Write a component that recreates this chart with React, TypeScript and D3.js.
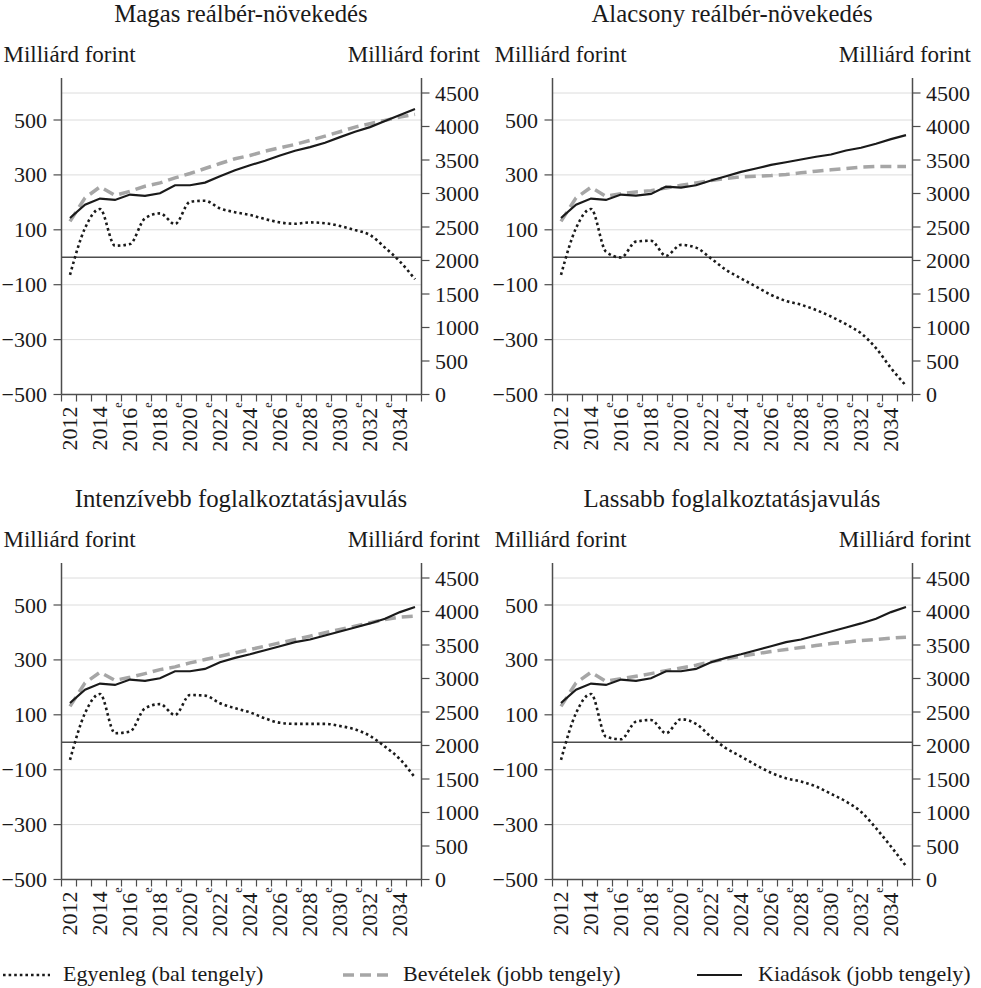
import * as d3 from "d3";

const years = [2012, 2013, 2014, 2015, 2016, 2017, 2018, 2019, 2020, 2021, 2022, 2023, 2024, 2025, 2026, 2027, 2028, 2029, 2030, 2031, 2032, 2033, 2034, 2035];
const labelYears = [2012, 2014, 2016, 2018, 2020, 2022, 2024, 2026, 2028, 2030, 2032, 2034];
const firstEstimate = 2016;

const leftTicks = [-500, -300, -100, 100, 300, 500];
const rightTicks = [0, 500, 1000, 1500, 2000, 2500, 3000, 3500, 4000, 4500];

const titles = [
	"Magas reálbér-növekedés",
	"Alacsony reálbér-növekedés",
	"Intenzívebb foglalkoztatásjavulás",
	"Lassabb foglalkoztatásjavulás",
];

// Kiadások (jobb tengely)
const expHigh = [2635, 2834, 2924, 2904, 2984, 2964, 3003, 3123, 3123, 3163, 3258, 3347, 3422, 3488, 3567, 3638, 3692, 3757, 3841, 3922, 3991, 4081, 4171, 4260];
const expLow = [2635, 2834, 2924, 2904, 2984, 2969, 2994, 3103, 3088, 3123, 3193, 3258, 3323, 3373, 3428, 3467, 3508, 3548, 3582, 3642, 3683, 3742, 3811, 3871];
const expFast = [2635, 2834, 2924, 2904, 2984, 2964, 3003, 3108, 3108, 3143, 3243, 3308, 3362, 3422, 3482, 3542, 3582, 3642, 3702, 3762, 3822, 3892, 3991, 4066];
const expSlow = [2635, 2834, 2924, 2904, 2984, 2964, 3003, 3108, 3108, 3143, 3243, 3308, 3362, 3422, 3482, 3542, 3582, 3642, 3702, 3762, 3822, 3892, 3991, 4066];

// Bevételek (jobb tengely)
const revHigh = [2584, 2934, 3099, 2973, 3033, 3108, 3158, 3233, 3298, 3373, 3448, 3518, 3567, 3632, 3683, 3732, 3792, 3856, 3922, 3991, 4042, 4091, 4141, 4181];
const revLow = [2584, 2934, 3093, 2958, 2998, 3024, 3043, 3083, 3123, 3158, 3193, 3223, 3248, 3258, 3268, 3283, 3308, 3333, 3353, 3373, 3393, 3403, 3403, 3403];
const revFast = [2584, 2934, 3093, 2973, 3018, 3073, 3133, 3173, 3233, 3283, 3333, 3383, 3433, 3482, 3533, 3582, 3632, 3683, 3732, 3782, 3832, 3882, 3916, 3931];
const revSlow = [2584, 2934, 3093, 2958, 2998, 3033, 3073, 3118, 3158, 3198, 3248, 3293, 3333, 3368, 3403, 3433, 3463, 3492, 3522, 3542, 3567, 3582, 3602, 3617];

// Egyenleg (bal tengely)
const balHigh = [-64, 106, 176, 42, 48, 142, 160, 121, 202, 206, 178, 164, 154, 139, 127, 122, 127, 124, 114, 99, 81, 35, -16, -80];
const balLow = [-64, 106, 176, 20, -1, 57, 60, 5, 45, 35, -4, -46, -77, -107, -137, -159, -173, -192, -216, -244, -277, -331, -404, -468];
const balFast = [-64, 106, 176, 33, 39, 124, 139, 99, 172, 170, 142, 124, 109, 87, 71, 67, 67, 67, 59, 47, 23, -16, -62, -129];
const balSlow = [-64, 106, 176, 20, 11, 75, 81, 33, 84, 67, 20, -22, -52, -83, -111, -131, -143, -161, -188, -216, -253, -313, -380, -451];

const FONT = "Liberation Serif, DejaVu Serif, serif";
const FS = 22;
const AXIS_COLOR = "#4d4d4d";
const GRID_COLOR = "#dcdcdc";
const REV_COLOR = "#a6a6a6";
const INK = "#1a1a1a";

const PANEL_W = 491;
const PANEL_H = 485;
const AXIS_L = 61.5;
const AXIS_R = 421.5;
const TOP = 78;
const BOTTOM = 394.5;

const fmt = d3.format("d");

type PanelProps = {
	ox: number;
	oy: number;
	title: string;
	exp: number[];
	rev: number[];
	bal: number[];
};

function Panel({ ox, oy, title, exp, rev, bal }: PanelProps) {
	const x = d3.scaleBand<number>().domain(years).range([ox + AXIS_L, ox + AXIS_R]);
	const cx = (yr: number) => (x(yr) ?? 0) + x.bandwidth() / 2 + 1;
	const yL = d3.scaleLinear().domain([-500, 500]).range([oy + BOTTOM, oy + 120]);
	const yR = d3.scaleLinear().domain([0, 4500]).range([oy + BOTTOM, oy + 93]);

	const rightLine = d3
		.line<number>()
		.x((_, i) => cx(years[i]))
		.y((d) => yR(d));
	const leftLine = d3
		.line<number>()
		.x((_, i) => cx(years[i]))
		.y((d) => yL(d))
		.curve(d3.curveMonotoneX);

	const boundaries = [...years.map((yr) => x(yr) ?? 0), ox + AXIS_R];

	return (
		<g style={{ fontFamily: FONT }} fontSize={FS} fill={INK}>
			<text x={ox + 241} y={oy + 22} textAnchor="middle" fontSize={24.8}>
				{title}
			</text>
			<text x={ox + 3.5} y={oy + 62} fontSize={23}>
				Milliárd forint
			</text>
			<text x={ox + 480} y={oy + 62} textAnchor="end" fontSize={23}>
				Milliárd forint
			</text>

			{/* gridlines */}
			{leftTicks.slice(1).map((t) => (
				<line key={"g" + t} x1={ox + AXIS_L} x2={ox + AXIS_R} y1={yL(t)} y2={yL(t)} stroke={GRID_COLOR} strokeWidth={1} />
			))}
			<line x1={ox + AXIS_L} x2={ox + AXIS_R} y1={yR(4500)} y2={yR(4500)} stroke={GRID_COLOR} strokeWidth={1} />

			{/* zero line */}
			<line x1={ox + AXIS_L} x2={ox + AXIS_R} y1={yL(0)} y2={yL(0)} stroke={AXIS_COLOR} strokeWidth={1.5} />

			{/* axes */}
			<line x1={ox + AXIS_L} x2={ox + AXIS_L} y1={oy + TOP} y2={oy + BOTTOM} stroke={AXIS_COLOR} strokeWidth={1.5} />
			<line x1={ox + AXIS_R} x2={ox + AXIS_R} y1={oy + TOP} y2={oy + BOTTOM} stroke={AXIS_COLOR} strokeWidth={1.5} />
			<line x1={ox + AXIS_L} x2={ox + AXIS_R} y1={oy + BOTTOM} y2={oy + BOTTOM} stroke={AXIS_COLOR} strokeWidth={1.5} />

			{leftTicks.map((t) => (
				<g key={"l" + t}>
					<line x1={ox + AXIS_L - 8} x2={ox + AXIS_L} y1={yL(t)} y2={yL(t)} stroke={AXIS_COLOR} strokeWidth={1.2} />
					<text x={ox + 47} y={yL(t)} textAnchor="end" dominantBaseline="central">
						{t < 0 ? "\u2212" + fmt(-t) : fmt(t)}
					</text>
				</g>
			))}
			{rightTicks.map((t) => (
				<g key={"r" + t}>
					<line x1={ox + AXIS_R} x2={ox + AXIS_R + 8} y1={yR(t)} y2={yR(t)} stroke={AXIS_COLOR} strokeWidth={1.2} />
					<text x={ox + 435} y={yR(t)} dominantBaseline="central">
						{fmt(t)}
					</text>
				</g>
			))}

			{boundaries.map((bx, i) => (
				<line key={"t" + i} x1={bx} x2={bx} y1={oy + BOTTOM} y2={oy + BOTTOM + 7} stroke={AXIS_COLOR} strokeWidth={1.2} />
			))}
			{labelYears.map((yr) => {
				const est = yr >= firstEstimate;
				return (
					<text
						key={"y" + yr}
						transform={`translate(${cx(yr) + 6.5},${oy + (est ? 402.5 : 406.5)}) rotate(-90)`}
						textAnchor="end"
					>
						{String(yr)}
						{est ? (
							<tspan fontSize={12} dy={-14.5}>
								e
							</tspan>
						) : null}
					</text>
				);
			})}

			<path d={rightLine(rev) ?? ""} fill="none" stroke={REV_COLOR} strokeWidth={3.5} strokeDasharray="11,6" />
			<path d={rightLine(exp) ?? ""} fill="none" stroke={INK} strokeWidth={2.2} />
			<path d={leftLine(bal) ?? ""} fill="none" stroke={INK} strokeWidth={2.6} strokeDasharray="2.6,3" />
		</g>
	);
}

export default function App() {
	const panels = [
		{ exp: expHigh, rev: revHigh, bal: balHigh },
		{ exp: expLow, rev: revLow, bal: balLow },
		{ exp: expFast, rev: revFast, bal: balFast },
		{ exp: expSlow, rev: revSlow, bal: balSlow },
	];
	const legendY = 975;

	return (
		<div>
			<style>{`body{margin:0;background:#fff}`}</style>
			<svg width={981} height={988} style={{ display: "block" }}>
				<rect width={981} height={988} fill="#fff" />
				{panels.map((p, i) => (
					<Panel
						key={i}
						ox={(i % 2) * PANEL_W}
						oy={Math.floor(i / 2) * PANEL_H}
						title={titles[i]}
						exp={p.exp}
						rev={p.rev}
						bal={p.bal}
					/>
				))}
				<g style={{ fontFamily: FONT }} fontSize={FS} fill={INK}>
					<line x1={3} x2={50} y1={legendY} y2={legendY} stroke={INK} strokeWidth={2.6} strokeDasharray="2.6,3" />
					<text x={63} y={legendY + 6}>Egyenleg (bal tengely)</text>
					<line x1={343} x2={388} y1={legendY} y2={legendY} stroke={REV_COLOR} strokeWidth={3.5} strokeDasharray="11,6" />
					<text x={403} y={legendY + 6}>Bevételek (jobb tengely)</text>
					<line x1={697} x2={742} y1={legendY} y2={legendY} stroke={INK} strokeWidth={2.2} />
					<text x={758} y={legendY + 6}>Kiadások (jobb tengely)</text>
				</g>
			</svg>
		</div>
	);
}
